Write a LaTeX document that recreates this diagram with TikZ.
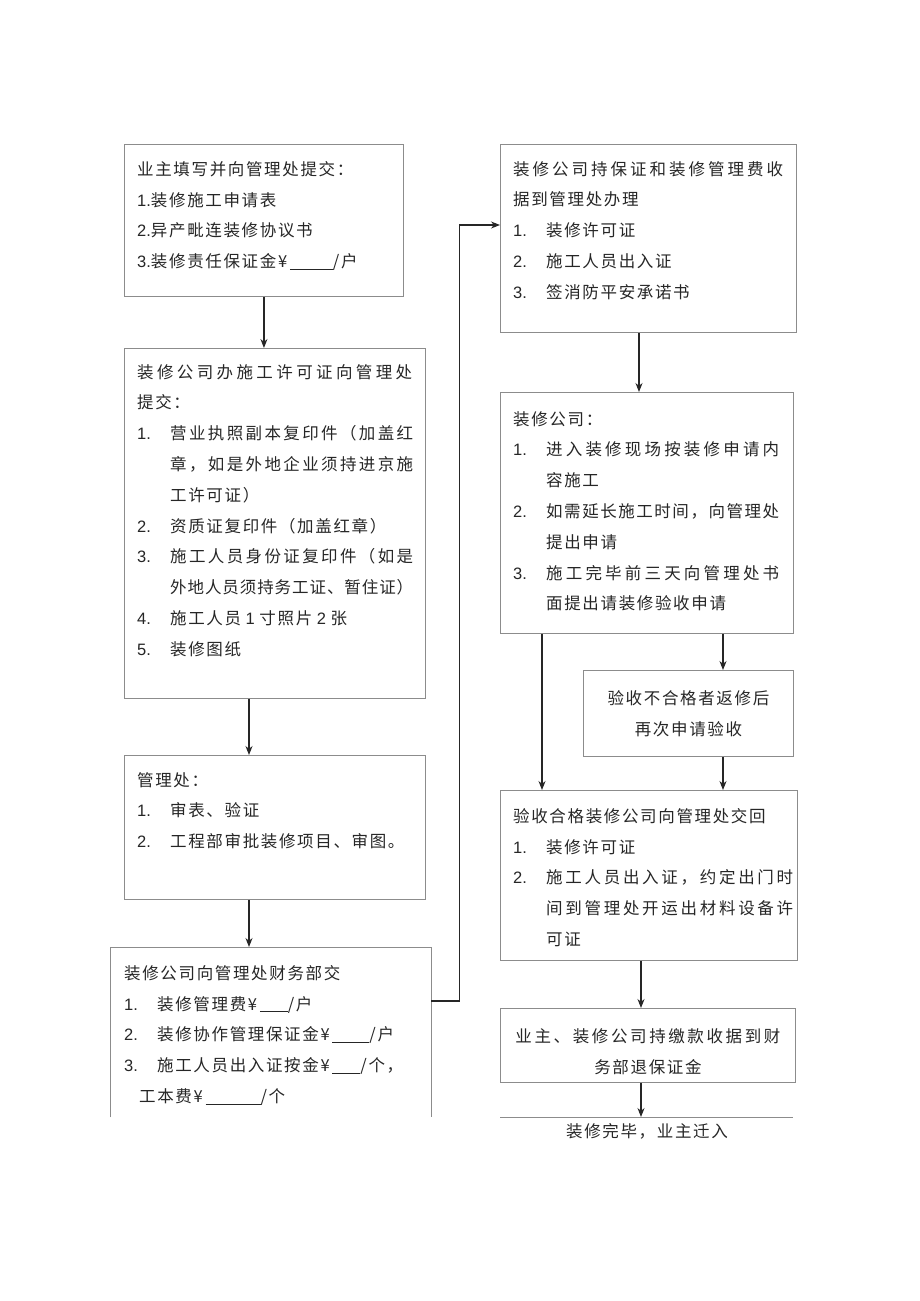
\documentclass[tikz,border=0pt]{standalone}
\usepackage{fontspec}
\setmainfont{Liberation Sans}
\newfontfamily\cjk{Noto Sans CJK SC}[LetterSpace=10]
\newfontfamily\lat{Liberation Sans}
\usepackage{tikz}
\usetikzlibrary{positioning,arrows.meta}

\newcommand\nr[1]{\makebox[33pt][l]{\lat #1}}
\newcommand\ind{\hspace*{33pt}}
\def\spr#1{\ifx#1\relax\unskip\else#1\hskip 0pt plus 1fil minus 1pt\expandafter\spr\fi}
\newcommand\full[2]{\makebox[#1][s]{\spr#2\relax}}
\newcommand\blank[1]{\rule[-2pt]{#1}{0.8pt}}

\begin{document}
\begin{tikzpicture}[x=1pt, y=-1pt,
	frame/.style={draw=black!45, line width=0.9pt, inner sep=0pt, anchor=north west},
	txt/.style={inner sep=0pt, align=left, text=black!85, font=\cjk\fontsize{16.5}{30.8}\selectfont},
	ctxt/.style={txt, align=center},
	arr/.style={draw=black!85, line width=1.1pt, -{Stealth[length=9pt, width=7pt]}}]
	\useasboundingbox (0,0) rectangle (920,1301);
	% left column
	\node[frame, minimum width=279pt, minimum height=152pt] (apply) at (124,144) {};
	\node[txt, below right=17pt and 13pt of apply.north west] (apply-t) {业主填写并向管理处提交：\\
		{\lat 1.}装修施工申请表\\
		{\lat 2.}异产毗连装修协议书\\
		{\lat 3.}装修责任保证金¥\,\blank{43pt}/户};
	\node[frame, minimum width=301pt, minimum height=350pt] (permit) at (124,348) {};
	\node[txt, below right=16pt and 13pt of permit.north west] (permit-t) {\full{275pt}{装修公司办施工许可证向管理处}\\
		提交：\\
		\nr{1.}\full{243pt}{营业执照副本复印件（加盖红}\\
		\ind\full{243pt}{章，如是外地企业须持进京施}\\
		\ind 工许可证）\\
		\nr{2.}资质证复印件（加盖红章）\\
		\nr{3.}\full{243pt}{施工人员身份证复印件（如是}\\
		\ind\full{243pt}{外地人员须持务工证、暂住证）}\\
		\nr{4.}施工人员{\lat\ 1\ }寸照片{\lat\ 2\ }张\\
		\nr{5.}装修图纸};
	\node[frame, minimum width=301pt, minimum height=144pt] (review) at (124,755) {};
	\node[txt, below right=17pt and 13pt of review.north west] (review-t) {管理处：\\
		\nr{1.}审表、验证\\
		\nr{2.}工程部审批装修项目、审图。};
	\node[inner sep=0pt, minimum width=321pt, minimum height=170pt, anchor=north west] (pay) at (110,947) {};
	\draw[draw=black!45, line width=0.9pt] (pay.south west) -- (pay.north west) -- (pay.north east) -- (pay.south east);
	\node[txt, below right=18pt and 14pt of pay.north west] (pay-t) {装修公司向管理处财务部交\\
		\nr{1.}装修管理费¥\,\blank{28pt}/户\\
		\nr{2.}装修协作管理保证金¥\,\blank{37pt}/户\\
		\nr{3.}施工人员出入证按金¥\,\blank{28pt}/个，\\
		\hspace*{15pt}工本费¥\,\blank{55pt}/个};
	% right column
	\node[frame, minimum width=296pt, minimum height=188pt] (handle) at (500,144) {};
	\node[txt, below right=17pt and 13pt of handle.north west] (handle-t) {\full{270pt}{装修公司持保证和装修管理费收}\\
		据到管理处办理\\
		\nr{1.}装修许可证\\
		\nr{2.}施工人员出入证\\
		\nr{3.}签消防平安承诺书};
	\node[frame, minimum width=293pt, minimum height=241pt] (work) at (500,392) {};
	\node[txt, below right=19pt and 13pt of work.north west] (work-t) {装修公司：\\
		\nr{1.}\full{233pt}{进入装修现场按装修申请内}\\
		\ind 容施工\\
		\nr{2.}\full{233pt}{如需延长施工时间，向管理处}\\
		\ind 提出申请\\
		\nr{3.}\full{233pt}{施工完毕前三天向管理处书}\\
		\ind 面提出请装修验收申请};
	\node[frame, minimum width=210pt, minimum height=86pt] (redo) at (583,670) {};
	\node[ctxt] (redo-t) at (redo.center) {验收不合格者返修后\\再次申请验收};
	\node[frame, minimum width=297pt, minimum height=170pt] (accept) at (500,790) {};
	\node[txt, below right=18pt and 13pt of accept.north west] (accept-t) {验收合格装修公司向管理处交回\\
		\nr{1.}装修许可证\\
		\nr{2.}\full{247pt}{施工人员出入证，约定出门时}\\
		\ind\full{247pt}{间到管理处开运出材料设备许}\\
		\ind 可证};
	\node[frame, minimum width=295pt, minimum height=74pt] (refund) at (500,1008) {};
	\node[ctxt, yshift=-6pt] (refund-t) at (refund.center) {\full{265pt}{业主、装修公司持缴款收据到财}\\务部退保证金};
	\coordinate (done-l) at (500,1117);
	\coordinate (done-r) at (793,1117);
	\draw[draw=black!45, line width=0.9pt] (done-l) -- (done-r);
	\coordinate (done) at (641,1117);
	\node[txt, below=6pt of done, xshift=6pt] (done-t) {装修完毕，业主迁入};
	% connectors
	\draw[arr] (apply.south) -- (apply.south |- permit.north);
	\draw[arr] ([xshift=125pt]permit.south west) -- ([xshift=125pt]review.north west);
	\draw[arr] ([xshift=125pt]review.south west) -- ([xshift=139pt]pay.north west);
	\draw[arr] ([yshift=-54pt]pay.north east) -- ++(28,0) |- ([yshift=-81pt]handle.north west);
	\draw[arr] ([xshift=139pt]handle.south west) -- ([xshift=139pt]work.north west);
	\draw[arr] ([xshift=42pt]work.south west) -- ([xshift=42pt]accept.north west);
	\draw[arr] ([xshift=223pt]work.south west) -- ([xshift=140pt]redo.north west);
	\draw[arr] ([xshift=140pt]redo.south west) -- ([xshift=223pt]accept.north west);
	\draw[arr] ([xshift=141pt]accept.south west) -- ([xshift=141pt]refund.north west);
	\draw[arr] ([xshift=141pt]refund.south west) -- (done);
\end{tikzpicture}
\end{document}
